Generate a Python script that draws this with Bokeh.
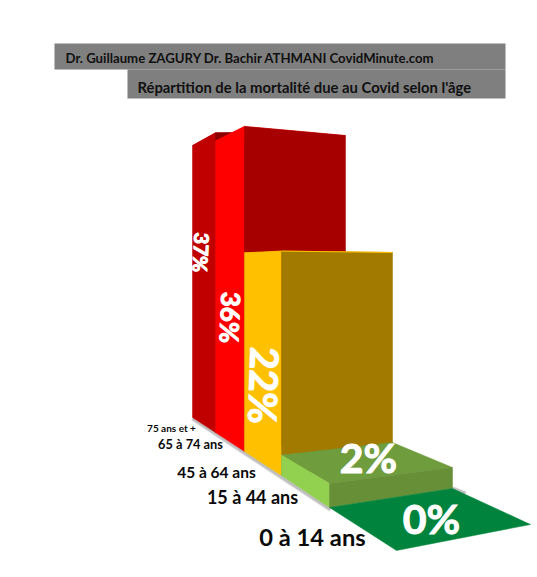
from bokeh.plotting import figure
from bokeh.embed import file_html
from bokeh.resources import INLINE
from bokeh.models import ColumnDataSource
from bokeh.core.properties import value

# --- data, back to front
categories = ["75 ans et +", "65 à 74 ans", "45 à 64 ans", "15 à 44 ans", "0 à 14 ans"]
mortality = [37, 36, 22, 2, 0]
value_labels = ["37%", "36%", "22%", "2%", "0%"]
title_1 = "Dr. Guillaume ZAGURY Dr. Bachir ATHMANI  CovidMinute.com"
title_2 = "Répartition de la mortalité due au Covid selon l'âge"

# --- perspective layout: floor corners, and pixels per percent at each corner
left_x = [192, 215, 244, 281, 329, 396]
left_y = [417, 432, 451, 475, 507, 550]
left_k = [7.35, 8.1, 9.03, 10.2, 12.0, 12.0]
right_x = [262, 300, 345, 392, 452, 530]
right_y = [396, 413, 436, 461, 488, 524]
right_k = [7.0, 7.6, 8.36, 9.5, 10.5, 10.5]

side_colors = ["#C00000", "#FF0000", "#FFC000", "#92D050", "#00843D"]
face_colors = ["#8A0000", "#A60000", "#A37A00", "#668F38", "#00843D"]
top_colors = ["#C00000", "#FF0000", "#FFC000", "#6F9C3D", "#00843D"]

label_x = [201, 230, 264, 368, 431]
label_y = [252, 317, 385, 457, 518]
label_angle = [-93, -92, -92, 0, 0]
label_size = ["20px", "26px", "39px", "41px", "41px"]

cat_x = [171, 190, 216, 252, 312]
cat_y = [427, 443, 471, 496, 536]
cat_size = ["10px", "12.8px", "15.5px", "18px", "23.7px"]

p = figure(width=537, height=569, x_range=(0, 537), y_range=(569, 0),
           output_backend="svg", toolbar_location=None, min_border=0,
           background_fill_color="white", border_fill_color="white")
p.axis.visible = False
p.grid.visible = False
p.outline_line_color = None

# header bands
p.quad(left=[54, 127], right=[505, 505], top=[43, 69], bottom=[69, 98],
       fill_color="#7F7F7F", line_color=None)
p.text(x=[65], y=[57], text=[title_1], text_font=value("Lato"), text_font_style="bold",
       text_font_size="13.2px", text_color="#111111", text_baseline="middle")
p.text(x=[137], y=[86], text=[title_2], text_font=value("Lato"), text_font_style="bold",
       text_font_size="14.8px", text_color="#111111", text_baseline="middle")

# floor shadow
for w, a in [(5, 0.25), (3, 0.5)]:
    p.line([left_x[0], left_x[4] + 1], [left_y[0] + 1, left_y[4] + 2], line_color="#999999",
           line_width=w, line_alpha=a)
    p.line([right_x[4], right_x[4] + 13], [right_y[4], right_y[4] + 5], line_color="#999999",
           line_width=w, line_alpha=a)

# bars: each corner's top is the floor point raised by value * pixels-per-percent
for i, v in enumerate(mortality):
    l0 = (left_x[i], left_y[i])
    l1 = (left_x[i + 1], left_y[i + 1])
    r0 = (right_x[i], right_y[i])
    r1 = (right_x[i + 1], right_y[i + 1])
    tl0 = (l0[0], l0[1] - v * left_k[i])
    tl1 = (l1[0], l1[1] - v * left_k[i + 1])
    tr0 = (r0[0], r0[1] - v * right_k[i])
    tr1 = (r1[0], r1[1] - v * right_k[i + 1])
    polys = [([tl0, tl1, tr1, tr0], top_colors[i])]
    if v > 0:
        polys.append(([l0, l1, tl1, tl0], side_colors[i]))
        polys.append(([l1, r1, tr1, tl1], face_colors[i]))
    for pts, col in polys:
        p.patch([q[0] for q in pts], [q[1] for q in pts], fill_color=col, line_color=col,
                line_width=0.5)

# thin lit top edge of the 22% block
p.line([left_x[3], right_x[3]], [left_y[3] - mortality[2] * left_k[3], right_y[3] - mortality[2] * right_k[3]],
       line_color="#FFC000", line_width=1)

src = ColumnDataSource(dict(x=label_x, y=label_y, t=value_labels, a=[d * 3.14159265 / 180 for d in label_angle],
                            s=label_size))
p.text("x", "y", text="t", angle="a", text_font_size="s", source=src, text_color="white",
       text_font=value("Lato"), text_font_style="bold", text_align="center", text_baseline="middle",
       text_outline_color="white")

src2 = ColumnDataSource(dict(x=cat_x, y=cat_y, t=categories, s=cat_size))
p.text("x", "y", text="t", text_font_size="s", source=src2, text_color="#0A0A0A",
       text_font=value("Lato"), text_font_style="bold", text_align="center", text_baseline="middle")

open("out.html", "w").write(file_html(p, INLINE))
